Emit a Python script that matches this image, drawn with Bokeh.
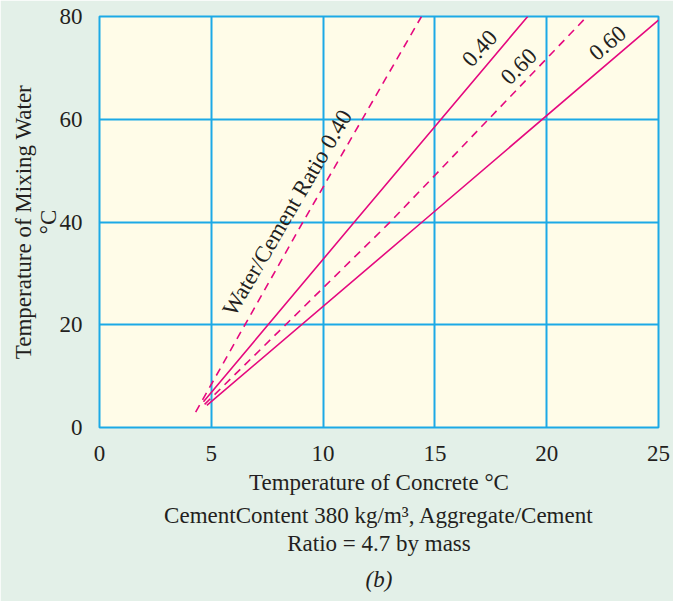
from bokeh.plotting import figure
from bokeh.models import Label, Range1d, FixedTicker, Title
from bokeh.embed import file_html
from bokeh.resources import INLINE

# Temperature of concrete (x) vs temperature of mixing water (y)
conc_dash_040 = [4.3, 9.1, 14.4]
water_dash_040 = [3.0, 40.0, 80.0]

conc_solid_040 = [4.65, 11.4, 19.15]
water_solid_040 = [5.0, 40.0, 80.0]

conc_dash_060 = [4.7, 13.0, 21.8]
water_dash_060 = [4.5, 40.0, 80.0]

conc_solid_060 = [4.8, 14.43, 25.0]
water_solid_060 = [4.3, 40.0, 79.3]

x_ticks = [0, 5, 10, 15, 20, 25]
y_ticks = [0, 20, 40, 60, 80]

curve_labels = ["Water/Cement Ratio 0.40", "0.40", "0.60", "0.60"]

caption_lines = ["CementContent 380 kg/m\u00b3, Aggregate/Cement",
                 "Ratio = 4.7 by mass"]
panel_tag = "(b)"

FONT = "Liberation Serif"
TXT = "#231F20"
BLUE = "#1CA9E6"
PINK = "#E5097F"

p = figure(width=673, height=601,
           x_range=Range1d(0, 25), y_range=Range1d(0, 80),
           output_backend="svg", toolbar_location=None,
           min_border_left=99, min_border_right=15,
           min_border_top=16, min_border_bottom=173)

p.background_fill_color = "#FFFCE8"
p.border_fill_color = "#E3F0E8"
p.outline_line_color = BLUE
p.outline_line_width = 2
p.outline_line_alpha = 1.0

p.xaxis.ticker = FixedTicker(ticks=x_ticks)
p.yaxis.ticker = FixedTicker(ticks=y_ticks)
p.xgrid.ticker = FixedTicker(ticks=x_ticks)
p.ygrid.ticker = FixedTicker(ticks=y_ticks)
p.grid.grid_line_color = BLUE
p.grid.grid_line_width = 2
p.grid.grid_line_alpha = 1.0

for ax in (p.xaxis, p.yaxis):
    ax.axis_line_color = None
    ax.major_tick_line_color = None
    ax.minor_tick_line_color = None
    ax.major_label_text_font = FONT
    ax.major_label_text_font_size = "23px"
    ax.major_label_text_color = TXT
    ax.axis_label_text_font = FONT
    ax.axis_label_text_font_size = "23px"
    ax.axis_label_text_font_style = "normal"
    ax.axis_label_text_color = TXT

p.xaxis.axis_label = "Temperature of Concrete \u00b0C"
p.xaxis.major_label_standoff = 12
p.xaxis.axis_label_standoff = 6

p.yaxis.axis_label = "Temperature of Mixing Water\n\u00b0C"
p.yaxis.axis_label_text_line_height = 1.0
p.yaxis.major_label_standoff = 11
p.yaxis.axis_label_standoff = -4

p.line(conc_dash_040, water_dash_040, line_color=PINK, line_width=1.6, line_dash="8 6")
p.line(conc_solid_040, water_solid_040, line_color=PINK, line_width=1.6)
p.line(conc_dash_060, water_dash_060, line_color=PINK, line_width=1.6, line_dash="8 6")
p.line(conc_solid_060, water_solid_060, line_color=PINK, line_width=1.6)

label_pos = [(8.4, 41.8, 59.7), (17.0, 73.8, 48), (18.75, 70.3, 45), (22.72, 74.85, 40)]
for txt, (lx, ly, ang) in zip(curve_labels, label_pos):
    p.add_layout(Label(x=lx, y=ly, text=txt, angle=ang, angle_units="deg",
                       text_align="center", text_baseline="middle",
                       text_font=FONT, text_font_size="23px", text_color=TXT))

# caption block under the x axis title
cap_specs = [(caption_lines[0], "normal", 6, 1),
             (caption_lines[1], "normal", -3, 0),
             (panel_tag, "italic", 20, -11)]
for txt, style, standoff, offset in cap_specs:
    p.add_layout(Title(text=txt, align="center", text_font=FONT,
                       text_font_size="23px", text_font_style=style,
                       text_color=TXT, standoff=standoff, offset=offset,
                       text_line_height=1.0), "below")

open("out.html", "w").write(file_html(p, INLINE))
